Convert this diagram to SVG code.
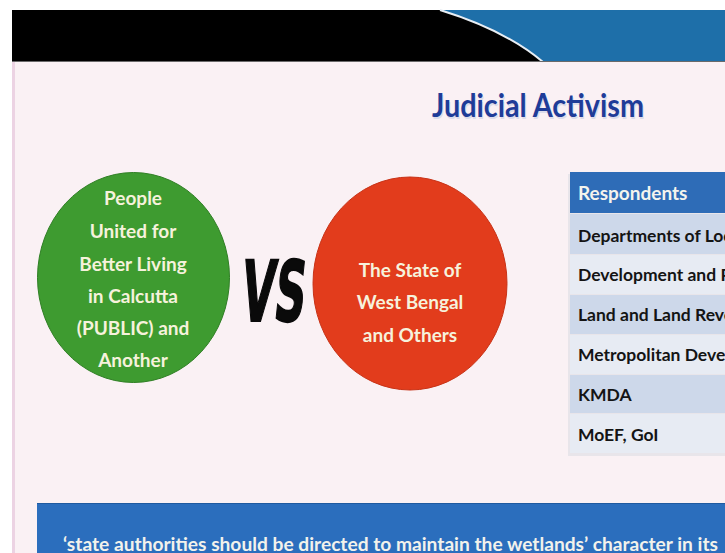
<svg xmlns="http://www.w3.org/2000/svg" width="725" height="553" viewBox="0 0 725 553">
  <defs>
    <style>
      .ct { font-family: Lato, "Open Sans", "Liberation Sans", sans-serif; font-weight: 700; font-size: 19px; fill: #f6f2dc; text-anchor: middle; }
      .tt { font-family: Lato, "Open Sans", "Liberation Sans", sans-serif; font-weight: 700; font-size: 17.5px; fill: #141414; }
      .th { font-family: Lato, "Open Sans", "Liberation Sans", sans-serif; font-weight: 700; font-size: 19px; fill: #f4f4ee; }
      .r1 { fill: #cdd8ea; }
      .r2 { fill: #e7ebf3; }
    </style>
  </defs>
  <rect x="0" y="0" width="725" height="553" fill="#ffffff"/>
  <rect x="12" y="61" width="713" height="492" fill="#faf1f4"/>
  <rect x="12" y="61" width="3" height="492" fill="#ecd3e3"/>
  <g id="header-band">
    <rect x="12" y="10" width="713" height="52" fill="#000000"/>
    <path d="M440,10 Q505,30 543,62 L725,62 L725,10 Z" fill="#1e6fa9"/>
    <path d="M440,10 Q505,30 543,62" fill="none" stroke="#e8eef4" stroke-width="2"/>
    <line x1="12" y1="61.5" x2="725" y2="61.5" stroke="#6a6a6a" stroke-width="1"/>
  </g>
  <g id="title">
    <text x="432" y="117" font-family="Lato, 'Open Sans', 'Liberation Sans', sans-serif" font-weight="700" font-size="33" fill="#dcdcea" textLength="212" lengthAdjust="spacingAndGlyphs" transform="translate(1,1.5)">Judicial Activism</text>
    <text x="432" y="117" font-family="Lato, 'Open Sans', 'Liberation Sans', sans-serif" font-weight="700" font-size="33" fill="#1f3c98" textLength="212" lengthAdjust="spacingAndGlyphs">Judicial Activism</text>
  </g>
  <g id="petitioner">
    <ellipse cx="133.5" cy="277.5" rx="96" ry="105" fill="#3e9b30" stroke="#2f7f24" stroke-width="1"/>
    <text class="ct" x="133" y="205">People</text>
    <text class="ct" x="133" y="238">United for</text>
    <text class="ct" x="133" y="271">Better Living</text>
    <text class="ct" x="133" y="303">in Calcutta</text>
    <text class="ct" x="133" y="335">(PUBLIC) and</text>
    <text class="ct" x="133" y="367">Another</text>
  </g>
  <g id="vs">
    <text x="240" y="321" font-family="'DejaVu Sans', sans-serif" font-weight="700" font-size="84" fill="#0a0a0a" stroke="#0a0a0a" stroke-width="2" textLength="64" lengthAdjust="spacingAndGlyphs" transform="skewX(-6) translate(33,0)">VS</text>
  </g>
  <g id="respondent">
    <ellipse cx="410" cy="283.5" rx="97" ry="106.5" fill="#e23c1c" stroke="#c83216" stroke-width="1"/>
    <text class="ct" x="410" y="277">The State of</text>
    <text class="ct" x="410" y="309">West Bengal</text>
    <text class="ct" x="410" y="342">and Others</text>
  </g>
  <g id="respondents-table">
    <rect x="568" y="174" width="157" height="282" fill="#dcdde3" opacity="0.6"/>
    <rect x="570" y="172" width="155" height="41" fill="#2e6cb7"/>
    <rect class="r1" x="570" y="214" width="155" height="40"/>
    <rect class="r2" x="570" y="255" width="155" height="39"/>
    <rect class="r1" x="570" y="295" width="155" height="39"/>
    <rect class="r2" x="570" y="335" width="155" height="39"/>
    <rect class="r1" x="570" y="375" width="155" height="38"/>
    <rect class="r2" x="570" y="414" width="155" height="39"/>
    <text class="th" x="578" y="200">Respondents</text>
    <text class="tt" x="578" y="242">Departments of Loc</text>
    <text class="tt" x="578" y="281">Development and P</text>
    <text class="tt" x="578" y="321">Land and Land Reve</text>
    <text class="tt" x="578" y="361">Metropolitan Devel</text>
    <text class="tt" x="578" y="401">KMDA</text>
    <text class="tt" x="578" y="441">MoEF, GoI</text>
  </g>
  <g id="quote-banner">
    <rect x="37" y="503" width="688" height="50" fill="#2b6ebd"/>
    <line x1="37" y1="503.5" x2="725" y2="503.5" stroke="#1f5aa0" stroke-width="1"/>
    <text x="63" y="551" font-family="Lato, 'Open Sans', 'Liberation Sans', sans-serif" font-weight="700" font-size="19" fill="#f2f2ec" textLength="655" lengthAdjust="spacingAndGlyphs">‘state authorities should be directed to maintain the wetlands’ character in its</text>
  </g>
</svg>
